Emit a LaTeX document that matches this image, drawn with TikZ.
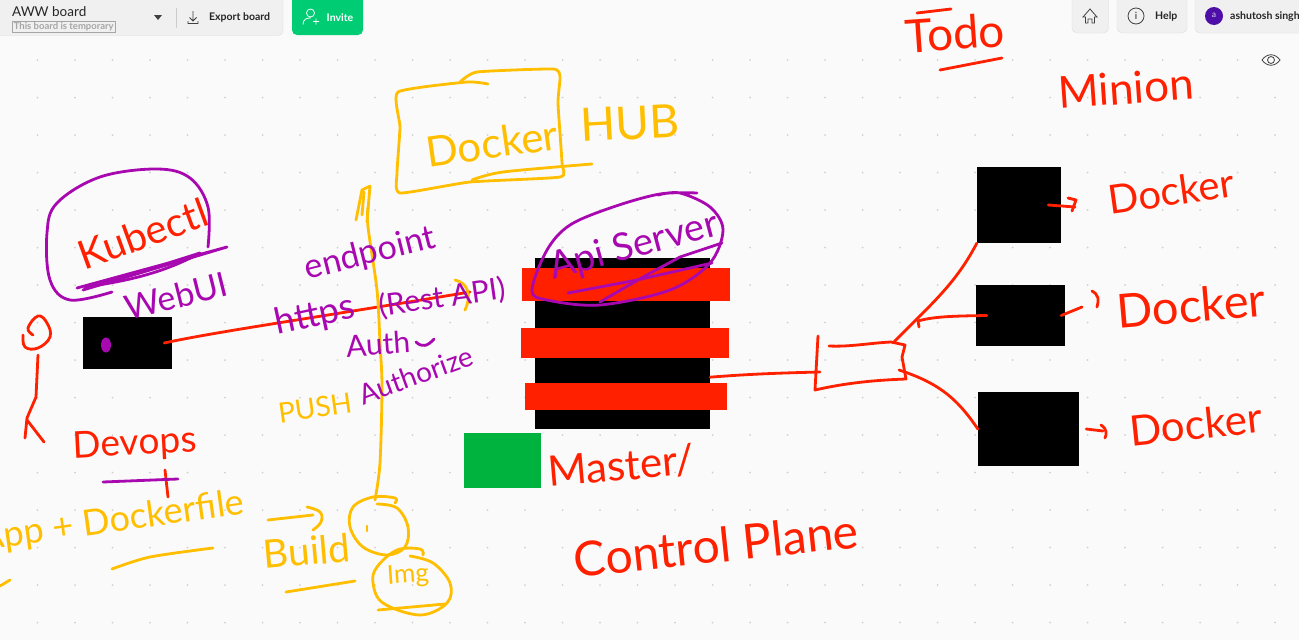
\documentclass[tikz,border=0pt]{standalone}
\usepackage{fontspec}
\usepackage{tikz}
\setmainfont{Lato}
\definecolor{penred}{HTML}{FF2000}
\definecolor{penpurple}{HTML}{A808B0}
\definecolor{penyellow}{HTML}{FFBF00}
\definecolor{boxgreen}{HTML}{00B33F}
\definecolor{boardgrey}{HTML}{FAFAFA}
\definecolor{bargrey}{HTML}{F0F0F0}
\definecolor{barline}{HTML}{DEDEDE}
\definecolor{invitegreen}{HTML}{00CC74}
\definecolor{avatarblue}{HTML}{4E0FA8}
\newcommand{\handsize}[1]{\fontsize{#1}{#1}\selectfont}
\tikzset{
  redpen/.style={draw=penred, line width=2.8pt, line cap=round, line join=round},
  purplepen/.style={draw=penpurple, line width=2.8pt, line cap=round, line join=round},
  yellowpen/.style={draw=penyellow, line width=2.8pt, line cap=round, line join=round},
  redhand/.style={text=penred, inner sep=0pt},
  purplehand/.style={text=penpurple, inner sep=0pt},
  yellowhand/.style={text=penyellow, inner sep=0pt},
  blackbox/.style={fill=black, inner sep=0pt},
  redbar/.style={fill=penred, inner sep=0pt},
  uibox/.style={draw=barline, fill=bargrey, rounded corners=5pt},
  uitext/.style={inner sep=0pt, text=black!85},
  uiicon/.style={draw=black!75, line width=0.8pt}
}

\begin{document}
\begin{tikzpicture}[x=1pt, y=-1pt]
  \useasboundingbox (0,0) rectangle (1299,640);
  \fill[boardgrey] (0,0) rectangle (1299,640);
  \foreach \i in {1,...,34}
    \foreach \j in {1,...,17}
      \fill[black!18] (37.5*\i,22.5+37.5*\j) circle (1pt);

  \draw[uibox] (-6,-6) rectangle (283,35.5);
  \node[uitext, anchor=west, font=\fontsize{13.5}{14}\selectfont] (boardname) at (12,12) {AWW board};
  \node[draw=black!35, line width=0.7pt, inner sep=1.5pt, text=black!35, anchor=west, font=\fontsize{9.5}{10}\bfseries\selectfont] (boardnote) at (12,27) {This board is temporary};
  \fill[black!75] (154,15) -- (162,15) -- (158,20) -- cycle;
  \draw[black!20] (176.5,8) -- (176.5,28);
  \draw[uiicon] (193,11) -- (193,20) (189.5,17.5) -- (193,21) -- (196.5,17.5) (188,21) -- (188,23.5) -- (198,23.5) -- (198,21);
  \node[uitext, anchor=west, font=\fontsize{10.5}{11}\bfseries\selectfont] (exportlabel) at (209,17.5) {Export board};
  \fill[invitegreen, rounded corners=5pt] (292,-6) rectangle (363,35);
  \draw[white, line width=0.8pt] (310.5,13) circle (4) (303,24.5) .. controls (303,19) and (307,18) .. (310.5,18) (313,21.5) -- (319,21.5) (316,18.5) -- (316,24.5);
  \node[inner sep=0pt, text=white, font=\fontsize{10.5}{11}\bfseries\selectfont] (invitelabel) at (340,17.5) {Invite};

  \draw[uibox] (1072,-6) rectangle (1108.5,33);
  \draw[uiicon] (1083,17) -- (1090,9) -- (1097,17) -- (1094.5,17) -- (1094.5,23) -- (1092,23) -- (1092,19) -- (1088,19) -- (1088,23) -- (1085.5,23) -- (1085.5,17) -- cycle;
  \draw[uibox] (1117,-6) rectangle (1187,33);
  \draw[uiicon] (1136,16) circle (8);
  \node[uitext, font=\fontsize{10}{10}\selectfont] (helpmark) at (1136,16) {i};
  \node[uitext, anchor=west, font=\fontsize{10.5}{11}\bfseries\selectfont] (helplabel) at (1155,16.5) {Help};
  \draw[uibox] (1195,-6) rectangle (1310,33);
  \fill[avatarblue] (1214,16) circle (9);
  \node[inner sep=0pt, text=white!80!avatarblue, font=\fontsize{8.5}{9}\selectfont] (avatarmark) at (1214,15.5) {a};
  \node[uitext, anchor=west, font=\fontsize{10.5}{11}\bfseries\selectfont] (username) at (1230,16.5) {ashutosh singh};
  \fill[black!2, rounded corners=4pt] (1257,45) rectangle (1286,75);
  \draw[uiicon] (1262,60) .. controls (1267,53) and (1275,53) .. (1280,60) .. controls (1275,67) and (1267,67) .. (1262,60) (1271,60) circle (3.5);

  \node[blackbox, minimum width=89pt, minimum height=52pt] (webuibox) at (127.5,343) {};
  \node[blackbox, minimum width=175pt, minimum height=171pt] (apibox) at (622.5,343.5) {};
  \node[redbar, minimum width=208pt, minimum height=33pt] (apibar) at (626,284.5) {};
  \node[redbar, minimum width=208pt, minimum height=30pt] (midbar) at (625,343) {};
  \node[redbar, minimum width=202pt, minimum height=27pt] (lowbar) at (626,396.5) {};
  \node[fill=boxgreen, inner sep=0pt, minimum width=77pt, minimum height=55pt] (masterbox) at (502.5,460.5) {};
  \node[blackbox, minimum width=84pt, minimum height=76pt] (workera) at (1019,205) {};
  \node[blackbox, minimum width=89pt, minimum height=61pt] (workerb) at (1020.5,315.5) {};
  \node[blackbox, minimum width=101pt, minimum height=74pt] (workerc) at (1028.5,429) {};

  \coordinate (restend) at (470,292);
  \coordinate (swin) at (820,372);
  \coordinate (swtop) at (893,343);
  \coordinate (swlow) at (899,370);
  \coordinate (swjoin) at (918,321);
  \draw[redpen] ([xshift=-8pt]webuibox.east) .. controls (215,332) and (300,320) .. (restend);
  \draw[redpen] (apibox.-21) .. controls (750,374) and (780,373) .. (swin);
  \draw[redpen] (829,346) .. controls (850,347) and (870,343) .. (891,342) -- (905,345) -- (902,357) -- (906,379) .. controls (880,380) and (850,382) .. (815,390) -- (818,336);
  \draw[redpen] (workera.south west) .. controls (955,285) and (930,305) .. (swtop);
  \draw[redpen] ([xshift=11pt]workerb.west) .. controls (960,316) and (935,316) .. (swjoin) -- +(1,6);
  \draw[redpen] (workerc.west) .. controls (955,395) and (935,382) .. (swlow);

  \coordinate (dockera) at (1075,207);
  \draw[redpen] ([xshift=-13pt]workera.east) -- (dockera);
  \draw[redpen] (1068,198) -- (1076,200) -- (1072,211);
  \coordinate (dockerb) at (1082,307);
  \draw[redpen] ([xshift=-4pt]workerb.east) -- (dockerb);
  \draw[redpen] (1092,291) .. controls (1099,295) and (1099,300) .. (1097,307);
  \coordinate (dockerc) at (1103,431);
  \draw[redpen] ([xshift=7pt]workerc.east) -- (dockerc);
  \draw[redpen] (1101,425) .. controls (1107,429) and (1107,434) .. (1105,438);

  \node[redhand, rotate=4, font=\handsize{46}] (todolabel) at (955,33) {Todo};
  \draw[redpen] (917,13) -- (951,9);
  \draw[redpen] (940,70) -- (1002,58);
  \node[redhand, rotate=4, font=\handsize{44}] (minionlabel) at (1126,88) {Minion};
  \node[redhand, rotate=8, font=\handsize{40}] (dockerlabela) at (1171,191) {Docker};
  \node[redhand, rotate=5, font=\handsize{47}] (dockerlabelb) at (1191,305) {Docker};
  \node[redhand, rotate=6, font=\handsize{42}] (dockerlabelc) at (1196,424) {Docker};
  \node[redhand, rotate=5, font=\handsize{42}] (masterlabel) at (621,466) {Master/};
  \node[redhand, rotate=6, font=\handsize{48}] (planelabel) at (716,545) {Control Plane};
  \node[redhand, rotate=3, font=\handsize{37}] (devopslabel) at (135,445) {Devops};
  \draw[redpen] (165,470) -- (168,497);
  \draw[redpen] plot[smooth, tension=.7] coordinates {(33,335) (28,328) (38,316) (47,323) (50,337) (38,348) (25,347) (23,335)};
  \draw[redpen] (38,355) -- (36,397) -- (27,418) -- (25,438);
  \draw[redpen] (27,420) -- (44,442);

  \draw[yellowpen] plot[smooth, tension=.5] coordinates {(375,500) (380,463) (382,387) (380,343) (377,290) (368,227) (368,207)};
  \draw[yellowpen] (356,220) -- (362,190) -- (370,186) -- (367,222);
  \draw[yellowpen] (362,215) -- (364,192);
  \draw[yellowpen] plot[smooth, tension=.3] coordinates {(488,84) (467,82) (398,92) (400,127) (397,173) (400,193) (470,182) (560,177) (562,163) (558,103) (560,77) (553,69) (477,72) (460,82)};
  \draw[yellowpen] plot[smooth, tension=.5] coordinates {(472,180) (503,172) (592,164)};
  \node[yellowhand, rotate=8, font=\handsize{42}] (dockerhublabel) at (492,143) {Docker};
  \node[yellowhand, rotate=3, font=\handsize{46}] (hublabel) at (630,123) {HUB};
  \node[yellowhand, rotate=8, font=\handsize{28}] (pushlabel) at (315,408) {PUSH};
  \node[yellowhand, rotate=8, font=\handsize{36}] (dockerfilelabel) at (112,522) {App + Dockerfile};
  \draw[yellowpen] plot[smooth, tension=.5] coordinates {(112,569) (150,557) (213,548)};
  \draw[yellowpen] (0,586) -- (10,580);
  \draw[yellowpen] (268,520) -- (313,515);
  \draw[yellowpen] plot[smooth, tension=.7] coordinates {(307,507) (320,512) (321,522) (313,530)};
  \node[yellowhand, rotate=5, font=\handsize{39}] (buildlabel) at (307,551) {Build};
  \draw[yellowpen] (286,592) -- (355,581);
  \draw[yellowpen] plot[smooth, tension=.6] coordinates {(395,503) (395,498) (373,497) (353,507) (350,527) (363,547) (387,555) (405,547) (408,527) (397,508) (377,504)};
  \draw[yellowpen] (367,526) -- (367,531);
  \draw[yellowpen] plot[smooth, tension=.6] coordinates {(423,555) (420,549) (397,550) (377,567) (373,583) (383,603) (420,615) (447,603) (450,583) (433,563) (410,556)};
  \draw[yellowpen] (378,610) -- (445,604);
  \node[yellowhand, rotate=4, font=\handsize{26}] (imglabel) at (408,576) {Img};
  \draw[yellowpen] (455,280) .. controls (468,283) and (472,295) .. (465,310);

  \draw[purplepen] plot[smooth, tension=.6] coordinates {(112,292) (70,300) (50,280) (47,233) (57,203) (100,177) (157,169) (190,178) (208,207) (208,247)};
  \draw[purplepen] (77,288) -- (227,247) -- (83,290) -- (200,253);
  \draw[purplepen] (200,253) .. controls (160,275) and (120,282) .. (85,287);
  \node[redhand, rotate=20, font=\handsize{40}] (kubectllabel) at (143,234) {Kubectl};
  \node[purplehand, rotate=14, font=\handsize{34}] (webuilabel) at (176,296) {WebUI};
  \fill[penpurple] (106,345) ellipse (5 and 7.5);
  \node[purplehand, rotate=14, font=\handsize{34}] (endpointlabel) at (370,254) {endpoint};
  \node[purplehand, rotate=12, font=\handsize{36}] (httpslabel) at (315,316) {https};
  \node[purplehand, rotate=8, font=\handsize{30}] (restlabel) at (442,298) {(Rest API)};
  \node[purplehand, rotate=4, font=\handsize{30}] (authlabel) at (378,344) {Auth};
  \draw[purplepen] (416,342) .. controls (422,348) and (428,346) .. (434,339);
  \node[purplehand, rotate=20, font=\handsize{28}] (authorizelabel) at (416,375) {Authorize};
  \draw[purplepen] (103,482) -- (178,479);
  \draw[purplepen] plot[smooth, tension=.55] coordinates {(697,193) (660,194) (613,207) (570,225) (547,250) (532,290) (547,300) (600,305) (670,290) (710,263) (723,230) (710,207) (680,193) (658,195)};
  \draw[purplepen] (568,293) -- (637,280) -- (712,263);
  \draw[purplepen] (600,302) -- (643,277) -- (680,257) -- (722,243);
  \node[purplehand, rotate=15, font=\handsize{38}] (apilabel) at (634,247) {Api Server};
\end{tikzpicture}
\end{document}
